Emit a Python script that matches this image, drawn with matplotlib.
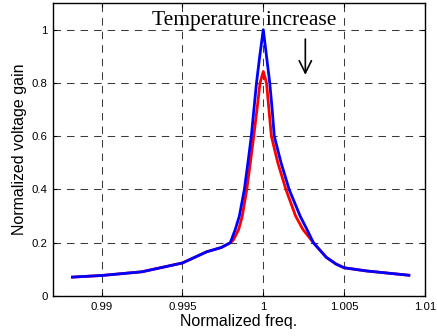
import matplotlib
matplotlib.use("Agg")
import matplotlib.pyplot as plt

# Data
blue_freq = [0.9882, 0.9900, 0.9925, 0.9950, 0.9965, 0.9974, 0.99796, 0.99827, 0.99852,
             0.99883, 0.99905, 0.99926, 0.99942, 0.99958, 0.99978, 1.0000,
             1.0002, 1.0004, 1.00055, 1.00068, 1.0011, 1.0016, 1.00228,
             1.0027, 1.0031, 1.0039, 1.0045, 1.0050, 1.0064, 1.0090]
blue_gain = [0.071, 0.077, 0.091, 0.124, 0.166, 0.182, 0.200, 0.25, 0.30,
             0.40, 0.50, 0.60, 0.70, 0.80, 0.90, 1.0,
             0.90, 0.80, 0.70, 0.60, 0.50, 0.40, 0.30,
             0.25, 0.20, 0.145, 0.120, 0.106, 0.094, 0.078]

red_freq = [0.9882, 0.9900, 0.9925, 0.9950, 0.9965, 0.9974, 0.99796, 0.99815, 0.99848,
            0.9987, 0.99898, 0.9992, 0.99941, 0.99961, 0.9998, 1.0000,
            1.0002, 1.00035, 1.0005, 1.0009, 1.0014, 1.0020,
            1.00245, 1.0031, 1.0039, 1.0045, 1.0050, 1.0064, 1.0090]
red_gain = [0.071, 0.077, 0.091, 0.124, 0.166, 0.182, 0.200, 0.21, 0.25,
            0.30, 0.40, 0.50, 0.60, 0.70, 0.80, 0.843,
            0.80, 0.70, 0.60, 0.50, 0.40, 0.30,
            0.25, 0.20, 0.145, 0.120, 0.106, 0.094, 0.078]

x_ticks = [0.99, 0.995, 1.0, 1.005, 1.01]
x_tick_labels = ["0.99", "0.995", "1", "1.005", "1.01"]
y_ticks = [0, 0.2, 0.4, 0.6, 0.8, 1.0]
y_tick_labels = ["0", "0.2", "0.4", "0.6", "0.8", "1"]

fig = plt.figure(figsize=(4.37, 3.36), dpi=100)
ax = fig.add_axes([0.1213, 0.119, 0.8513, 0.872])

ax.plot(red_freq, red_gain, color="#ff0000", lw=2.0, zorder=3)
ax.plot(blue_freq, blue_gain, color="#0000ff", lw=2.0, zorder=4)

ax.set_xlim(0.987, 1.01)
ax.set_ylim(0, 1.1)
ax.set_xticks(x_ticks)
ax.set_xticklabels(x_tick_labels, fontfamily="Liberation Sans", fontsize=8.2)
ax.set_yticks(y_ticks)
ax.set_yticklabels(y_tick_labels, fontfamily="Liberation Sans", fontsize=8.2)
ax.tick_params(direction="in", length=3, width=0.8, top=True, right=True, pad=4)
ax.grid(True, color="#3a3a3a", lw=0.75, linestyle=(0, (7.2, 5.8)))
for s in ax.spines.values():
    s.set_linewidth(1.0)

ax.set_xlabel("Normalized freq.", fontfamily="Liberation Sans", fontsize=11.5, labelpad=2)
ax.set_ylabel("Normalized voltage gain", fontfamily="Liberation Sans", fontsize=11.5, labelpad=3)

ax.text(0.99315, 1.035, "Temperature increase", fontfamily="Liberation Serif",
        fontsize=15.5, va="center", ha="left", zorder=2)
ax.annotate("", xy=(1.0026, 0.82), xytext=(1.0026, 0.975),
            arrowprops=dict(arrowstyle="->", color="black", lw=1.2,
                            mutation_scale=22))

fig.savefig("out.png", dpi=100)
